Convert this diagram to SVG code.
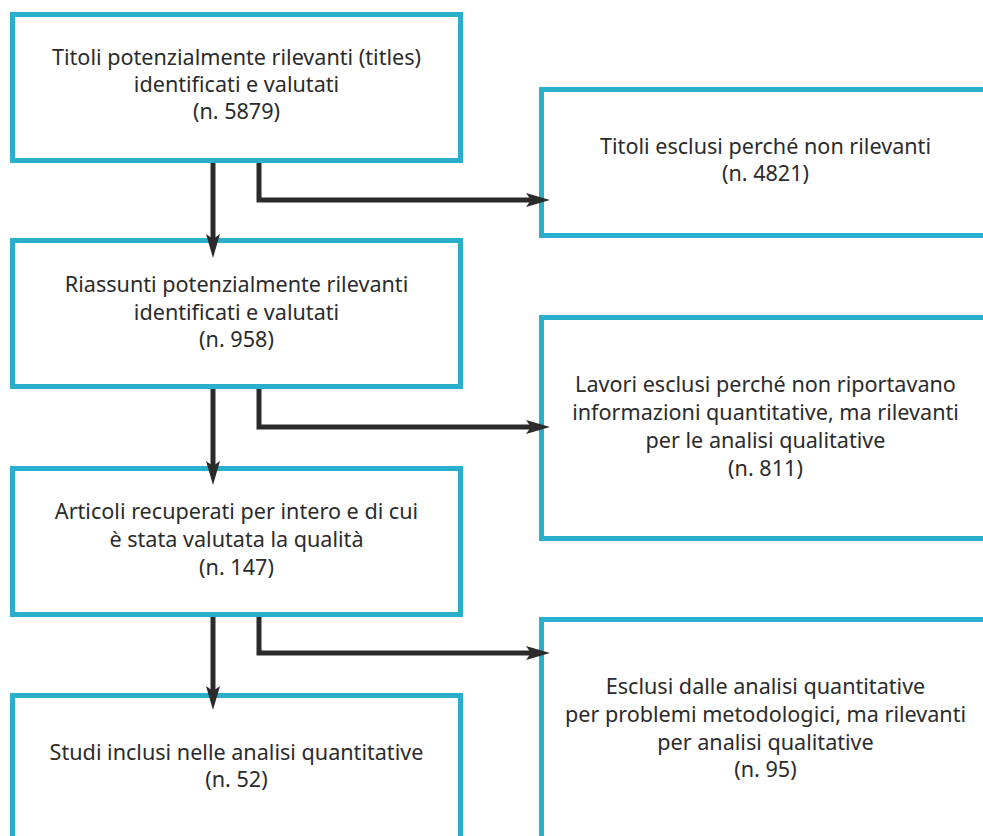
<svg xmlns="http://www.w3.org/2000/svg" width="983" height="836" viewBox="0 0 983 836">
<style>
.box{fill:#fff;stroke:#29afcc;stroke-width:5}
.t{font-family:"Noto Sans","Open Sans",sans-serif;font-size:21.6px;fill:#2b2b2b;text-anchor:middle}
.c{fill:none;stroke:#2b2b2b;stroke-width:5;stroke-linejoin:miter}
</style>
<defs>
<marker id="ah" viewBox="0 0 24 14" refX="14" refY="7" markerWidth="24" markerHeight="14" markerUnits="userSpaceOnUse" orient="auto">
<path d="M0,0 L24,7 L0,14 L5,7 Z" fill="#2b2b2b"/>
</marker>
</defs>
<rect width="983" height="836" fill="#fff"/>
<g id="b1"><rect class="box" x="12.5" y="14.5" width="448" height="146"/>
<text class="t" x="236.5" y="65">Titoli potenzialmente rilevanti (titles)</text>
<text class="t" x="236.5" y="92">identificati e valutati</text>
<text class="t" x="236.5" y="119">(n. 5879)</text></g>
<g id="r1"><rect class="box" x="541.5" y="89.5" width="500" height="146"/>
<text class="t" x="765.5" y="154">Titoli esclusi perché non rilevanti</text>
<text class="t" x="765.5" y="181">(n. 4821)</text></g>
<g id="b2"><rect class="box" x="12.5" y="240.5" width="448" height="146"/>
<text class="t" x="236.5" y="292">Riassunti potenzialmente rilevanti</text>
<text class="t" x="236.5" y="319.5">identificati e valutati</text>
<text class="t" x="236.5" y="347">(n. 958)</text></g>
<g id="r2"><rect class="box" x="541.5" y="317.5" width="500" height="221"/>
<text class="t" x="765.5" y="392">Lavori esclusi perché non riportavano</text>
<text class="t" x="765.5" y="420">informazioni quantitative, ma rilevanti</text>
<text class="t" x="765.5" y="448">per le analisi qualitative</text>
<text class="t" x="765.5" y="476">(n. 811)</text></g>
<g id="b3"><rect class="box" x="12.5" y="468.5" width="448" height="146"/>
<text class="t" x="236.5" y="519">Articoli recuperati per intero e di cui</text>
<text class="t" x="236.5" y="547">è stata valutata la qualità</text>
<text class="t" x="236.5" y="575">(n. 147)</text></g>
<g id="r3"><rect class="box" x="541.5" y="619.5" width="500" height="300"/>
<text class="t" x="765.5" y="694">Esclusi dalle analisi quantitative</text>
<text class="t" x="765.5" y="722">per problemi metodologici, ma rilevanti</text>
<text class="t" x="765.5" y="749.5">per analisi qualitative</text>
<text class="t" x="765.5" y="777">(n. 95)</text></g>
<g id="b4"><rect class="box" x="12.5" y="695.5" width="448" height="200"/>
<text class="t" x="236.5" y="760">Studi inclusi nelle analisi quantitative</text>
<text class="t" x="236.5" y="787">(n. 52)</text></g>
<g id="connectors">
<path class="c" d="M213,163 V248" marker-end="url(#ah)"/>
<path class="c" d="M259,163 V200 H540" marker-end="url(#ah)"/>
<path class="c" d="M213,389 V475" marker-end="url(#ah)"/>
<path class="c" d="M259,389 V427 H540" marker-end="url(#ah)"/>
<path class="c" d="M213,617 V700" marker-end="url(#ah)"/>
<path class="c" d="M259,617 V653 H540" marker-end="url(#ah)"/>
</g>
</svg>
